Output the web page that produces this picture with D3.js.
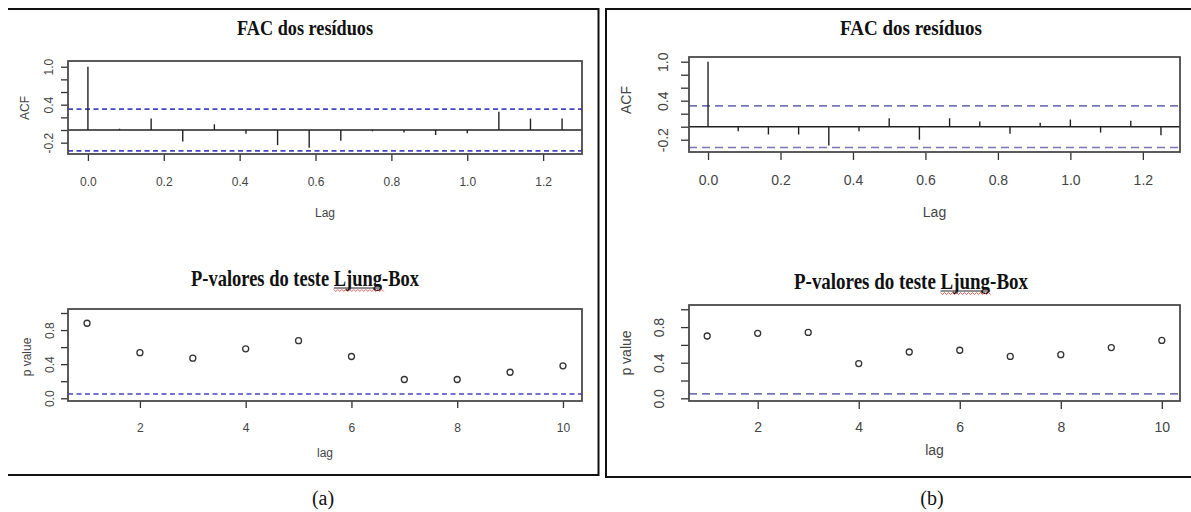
<!DOCTYPE html>
<meta charset="utf-8">
<script src="https://cdnjs.cloudflare.com/ajax/libs/d3/7.8.5/d3.min.js"></script>
<style>
  body { margin: 0; background: #fff; }
</style>
<div id="fig"></div>
<script>

// lags da FAC em meses (eixo em anos, frequencia 12)
var acfLag = [0, 1, 2, 3, 4, 5, 6, 7, 8, 9, 10, 11, 12, 13, 14, 15];
// (a) FAC dos residuos
var acfA = [1.00, 0.02, 0.18, -0.18, 0.09, -0.06, -0.24, -0.28, -0.17, -0.02, -0.04, -0.08, -0.05, 0.29, 0.18, 0.18];
// (b) FAC dos residuos
var acfB = [1.00, -0.07, -0.12, -0.12, -0.29, -0.07, 0.13, -0.20, 0.13, 0.08, -0.11, 0.06, 0.11, -0.09, 0.09, -0.13];
var ciA = 0.33, ciB = 0.32;

// p-valores Ljung-Box
var pLag = [1, 2, 3, 4, 5, 6, 7, 8, 9, 10];
var pA = [0.88, 0.535, 0.47, 0.58, 0.675, 0.49, 0.22, 0.22, 0.305, 0.38];
var pB = [0.70, 0.73, 0.74, 0.39, 0.52, 0.54, 0.47, 0.49, 0.57, 0.65];
var pLimit = 0.05;

// ticks e rotulos
var acfXTicks = [0, 0.2, 0.4, 0.6, 0.8, 1.0, 1.2];
var acfYTicks = [-0.2, 0, 0.2, 0.4, 0.6, 0.8, 1.0];
var acfYLabels = ["-0.2", "0.4", "1.0"];
var pXTicks = [2, 4, 6, 8, 10];
var pYTicks = [0, 0.2, 0.4, 0.6, 0.8, 1.0];
var pYLabels = ["0.0", "0.4", "0.8"];

var acfTitle = "FAC dos resíduos";
var pTitle = "P-valores do teste Ljung-Box";
var captions = ["(a)", "(b)"];

var SANS = "Liberation Sans, Arial, sans-serif";
var SERIF = "Liberation Serif, Times New Roman, serif";

var svg = d3.select("#fig")
  .append("svg")
    .attr("width", 1191)
    .attr("height", 512);

// bordas da tabela do documento
var borders = svg.append("g").attr("stroke", "#111").attr("stroke-width", 2).attr("fill", "none");
borders.append("path").attr("d", "M8,9H598.5V475H8");
borders.append("path").attr("d", "M1191,9H606V477H1191");

// layout de cada painel
var panels = [
  { acf: acfA, ci: ciA, p: pA, cap: captions[0], capX: 323,
    x0: 68, x1: 582, fs: 12, tick: 7, dash: "5,3.5", dashColor: "#4646c4",
    acfBox: [61, 154], acfY: [-0.379, 1.09], acfTitleX: 237, acfTitleW: 136, acfTitleY: 35,
    acfYoff: 15, acfXoff: 32, lagY: 217, acfLabX: 29,  acfLabY: 108,
    pBox: [309, 401], pY: [-0.032, 1.047], pTitleX: 191, pTitleW: 228, pTitleY: 286,
    pYoff: 14, pXoff: 31, plagY: 457, pLabX: 31, pLabY: 357 },
  { acf: acfB, ci: ciB, p: pB, cap: captions[1], capX: 932,
    x0: 689, x1: 1180, fs: 14, tick: 8, dash: "8,5", dashColor: "#7676b8",
    acfBox: [57, 152], acfY: [-0.389, 1.072], acfTitleX: 840, acfTitleW: 142, acfTitleY: 35,
    acfYoff: 21, acfXoff: 33, lagY: 217, acfLabX: 631, acfLabY: 100,
    pBox: [305, 401], pY: [-0.03, 1.048], pTitleX: 794, pTitleW: 234, pTitleY: 289,
    pYoff: 25, pXoff: 31, plagY: 455, pLabX: 631, pLabY: 353 }
];

function addTitle(g, txt, x, y, w, size) {
  var t = g.append("text")
    .attr("x", x).attr("y", y)
    .attr("font-family", SERIF).attr("font-weight", "bold")
    .attr("font-size", size).attr("fill", "#111")
    .attr("textLength", w).attr("lengthAdjust", "spacingAndGlyphs")
    .text(txt);
  var i = txt.indexOf("Ljung");
  if (i >= 0) {
    var a = t.node().getStartPositionOfChar(i).x;
    var b = t.node().getEndPositionOfChar(i + 4).x;
    g.append("line").attr("x1", a).attr("x2", b).attr("y1", y + 2).attr("y2", y + 2)
      .attr("stroke", "#222").attr("stroke-width", 1);
    var pts = d3.range(a, b + 2, 2).map(function(v, k) { return [v, y + 4.5 + (k % 2 ? 1 : -1)]; });
    g.append("path").attr("d", d3.line()(pts))
      .attr("fill", "none").attr("stroke", "#e03838").attr("stroke-width", 0.8);
  }
}

function styleAxis(ax, p) {
  ax.select(".domain").remove();
  ax.selectAll(".tick line").attr("stroke", "#333").attr("stroke-width", 1.3);
  ax.selectAll(".tick text").attr("fill", "#444").attr("font-family", SANS).attr("font-size", p.fs);
}

function yAxis(g, y, p, ticks, labels, off) {
  var ax = g.append("g")
    .attr("transform", "translate(" + p.x0 + ",0)")
    .call(d3.axisLeft(y).tickValues(ticks).tickSize(p.tick)
      .tickFormat(function(d) { var s = d.toFixed(1); return labels.indexOf(s) >= 0 ? s : ""; }));
  styleAxis(ax, p);
  ax.selectAll(".tick text")
    .attr("x", 0).attr("y", 0).attr("dy", 0)
    .attr("text-anchor", "middle")
    .attr("transform", "translate(" + (-off) + ",0) rotate(-90)");
}

function xAxis(g, x, p, bottom, ticks, fmt, off) {
  var ax = g.append("g")
    .attr("transform", "translate(0," + bottom + ")")
    .call(d3.axisBottom(x).tickValues(ticks).tickSize(p.tick).tickFormat(fmt));
  styleAxis(ax, p);
  ax.selectAll(".tick text").attr("y", off).attr("dy", 0);
}

function frame(g, p, box) {
  g.append("rect")
    .attr("x", p.x0).attr("y", box[0])
    .attr("width", p.x1 - p.x0).attr("height", box[1] - box[0])
    .attr("fill", "none").attr("stroke", "#4a4a4a").attr("stroke-width", 1.8);
}

function axisTitle(g, txt, x, y, size, rotate) {
  g.append("text")
    .attr("transform", "translate(" + x + "," + y + ")" + (rotate ? " rotate(-90)" : ""))
    .attr("text-anchor", "middle")
    .attr("font-family", SANS).attr("font-size", size).attr("fill", "#444")
    .text(txt);
}

panels.forEach(function(p) {
  var g = svg.append("g");

  // ---- FAC ----
  var x = d3.scaleLinear().domain([-0.0525, 1.3025]).range([p.x0, p.x1]);
  var y = d3.scaleLinear().domain(p.acfY).range([p.acfBox[1], p.acfBox[0]]);

  addTitle(g, acfTitle, p.acfTitleX, p.acfTitleY, p.acfTitleW, 22);

  g.selectAll(".ci").data([p.ci, -p.ci]).join("line")
    .attr("x1", p.x0).attr("x2", p.x1)
    .attr("y1", function(d) { return y(d); }).attr("y2", function(d) { return y(d); })
    .attr("stroke", p.dashColor).attr("stroke-width", 1.6).attr("stroke-dasharray", p.dash);

  g.append("line")
    .attr("x1", p.x0).attr("x2", p.x1).attr("y1", y(0)).attr("y2", y(0))
    .attr("stroke", "#222").attr("stroke-width", 1.4);

  g.selectAll(".bar").data(p.acf).join("line")
    .attr("x1", function(d, i) { return x(acfLag[i] / 12); })
    .attr("x2", function(d, i) { return x(acfLag[i] / 12); })
    .attr("y1", y(0))
    .attr("y2", function(d) { return y(d); })
    .attr("stroke", "#222").attr("stroke-width", 1.4);

  yAxis(g, y, p, acfYTicks, acfYLabels, p.acfYoff);
  xAxis(g, x, p, p.acfBox[1], acfXTicks, function(d) { return d.toFixed(1); }, p.acfXoff);
  frame(g, p, p.acfBox);
  axisTitle(g, "ACF", p.acfLabX, p.acfLabY, p.fs, true);
  axisTitle(g, "Lag", (p.x0 + p.x1) / 2, p.lagY, p.fs, false);

  // ---- Ljung-Box ----
  var px = d3.scaleLinear().domain([0.64, 10.36]).range([p.x0, p.x1]);
  var py = d3.scaleLinear().domain(p.pY).range([p.pBox[1], p.pBox[0]]);

  addTitle(g, pTitle, p.pTitleX, p.pTitleY, p.pTitleW, 23);

  g.append("line")
    .attr("x1", p.x0).attr("x2", p.x1).attr("y1", py(pLimit)).attr("y2", py(pLimit))
    .attr("stroke", p.dashColor).attr("stroke-width", 1.6).attr("stroke-dasharray", p.dash);

  g.selectAll(".pt").data(p.p).join("circle")
    .attr("cx", function(d, i) { return px(pLag[i]); })
    .attr("cy", function(d) { return py(d); })
    .attr("r", 3)
    .attr("fill", "none").attr("stroke", "#333").attr("stroke-width", 1.3);

  yAxis(g, py, p, pYTicks, pYLabels, p.pYoff);
  xAxis(g, px, p, p.pBox[1], pXTicks, d3.format("d"), p.pXoff);
  frame(g, p, p.pBox);
  axisTitle(g, "p value", p.pLabX, p.pLabY, p.fs, true);
  axisTitle(g, "lag", (p.x0 + p.x1) / 2, p.plagY, p.fs, false);

  // legenda do painel
  svg.append("text")
    .attr("x", p.capX).attr("y", 505)
    .attr("text-anchor", "middle")
    .attr("font-family", SERIF).attr("font-size", 20).attr("fill", "#111")
    .text(p.cap);
});

</script>
